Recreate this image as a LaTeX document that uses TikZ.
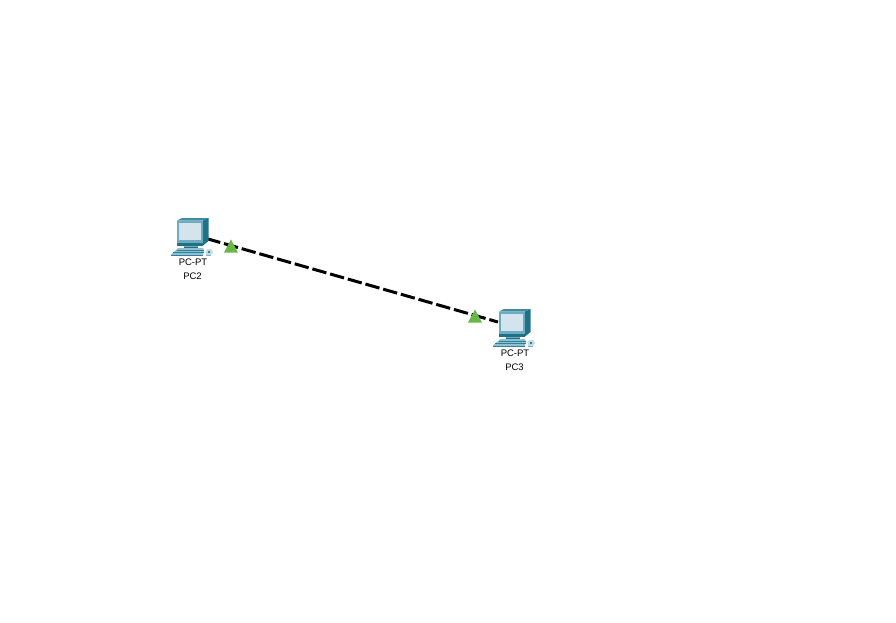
\documentclass[tikz,border=0pt]{standalone}
\usepackage{fontspec}
\setmainfont{Liberation Sans}
\definecolor{monfront}{HTML}{6FABBF}
\definecolor{monside}{HTML}{1F7187}
\definecolor{montop}{HTML}{3D8CA3}
\definecolor{screen}{HTML}{D3E4EE}
\definecolor{basefill}{HTML}{8FC0D0}
\definecolor{baseedge}{HTML}{2F8098}
\definecolor{linkgreen}{HTML}{67B847}
\tikzset{
  anchorbox/.style={minimum width=32pt,minimum height=20pt,inner sep=0pt,outer sep=0pt},
  linkline/.style={line width=3pt,draw=black,dash pattern=on 14.5pt off 3.9pt,dash phase=1.8pt},
  lighttri/.style={fill=linkgreen,draw=none},
  pclabel/.style={font=\fontsize{9.5pt}{10pt}\selectfont,text=black,inner sep=0pt,anchor=center},
  pcicon/.pic={
    % monitor top and side
    \fill[montop] (177,220.5) -- (182,218) -- (208.5,218) -- (203,220.5) -- cycle;
    \fill[monside] (203,220.5) -- (208.5,218) -- (208.5,241) -- (203,245.5) -- cycle;
    % monitor front
    \fill[monfront] (177,220.5) rectangle (203,245.5);
    \fill[monside] (177,242.5) rectangle (203,245.5);
    \fill[screen] (179,222.5) rectangle (201,239.5);
    % neck
    \fill[monfront] (184,245.5) rectangle (198,248);
    \draw[monside,line width=.6pt] (184,247.5) -- (198,247.5);
    % base / keyboard
    \fill[basefill] (178,248) -- (203,248) -- (204,251) -- (175,251) -- cycle;
    \draw[baseedge,line width=.7pt] (177,250) -- (204,250);
    \fill[basefill] (175,251) -- (204,251) -- (203,255) -- (170.5,255) -- cycle;
    \draw[baseedge,line width=.8pt] (173,252.5) -- (203.5,252.5);
    \draw[baseedge,line width=.6pt] (171,254.8) -- (203,254.8);
    % mouse
    \fill[basefill!55!white] (207,249.5) -- (211,249) -- (213,252) -- (211,255) -- (206,255) -- (205.5,252) -- cycle;
    \fill[baseedge] (208,250.5) rectangle (210,253);
    \draw[baseedge!60!white,line width=.5pt] (206,255) -- (211,255);
  }
}
\begin{document}
\begin{tikzpicture}[x=1pt,y=-1pt]
\useasboundingbox[fill=white] (0,0) rectangle (896,623);
\node[anchorbox] (pc2) at (192,234.4) {};
\node[anchorbox] (pc3) at (514,326.6) {};
\draw[linkline] (pc2) -- (pc3);
\pic at (0,0) {pcicon};
\pic at (322,91) {pcicon};
\fill[lighttri] (231,239.5) -- (238,252.5) -- (224,252.5) -- cycle;
\fill[lighttri] (475,309.5) -- (482,322.5) -- (468,322.5) -- cycle;
\node[pclabel] (pc2type) at (193,262) {PC-PT};
\node[pclabel] (pc2name) at (192.5,276) {PC2};
\node[pclabel] (pc3type) at (515,353) {PC-PT};
\node[pclabel] (pc3name) at (514.5,367) {PC3};
\end{tikzpicture}
\end{document}
